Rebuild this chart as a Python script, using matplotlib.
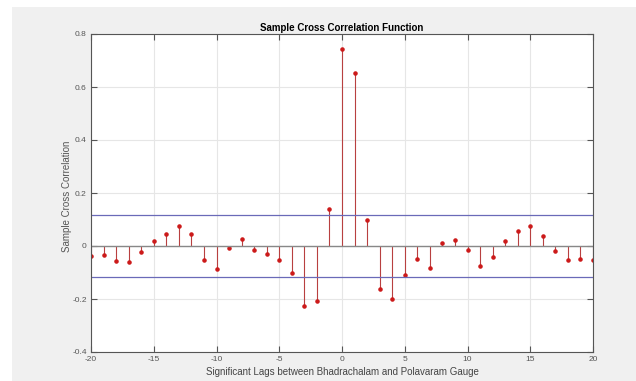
import numpy as np
import matplotlib.pyplot as plt

plt.rcParams['font.family'] = ['Liberation Sans', 'DejaVu Sans']
plt.rcParams['axes.unicode_minus'] = False

# Sample cross correlation values
lags = np.arange(-20, 21)
xcf = [-0.038, -0.035, -0.058, -0.062, -0.024, 0.019, 0.045, 0.075, 0.044, -0.054,
       -0.088, -0.008, 0.025, -0.014, -0.031, -0.053, -0.100, -0.226, -0.207, 0.138,
       0.745, 0.652, 0.100, -0.162, -0.201, -0.108, -0.050, -0.083, 0.010, 0.023,
       -0.016, -0.075, -0.043, 0.018, 0.055, 0.074, 0.036, -0.018, -0.052, -0.048,
       -0.054]
bound = 0.117

fig = plt.figure(figsize=(6.36, 3.81), dpi=100, facecolor='white')
# gray MATLAB-style figure panel
fig.patches.append(plt.Rectangle((12 / 636, 0), 1, 1 - 7 / 381, transform=fig.transFigure,
                                 facecolor='#f0f0f0', edgecolor='none', zorder=-10))
ax = fig.add_axes([91 / 636, 1 - 352 / 381, (593 - 91) / 636, (352 - 34) / 381])

ml, sl, bl = ax.stem(lags, xcf, linefmt='-', markerfmt='.', basefmt='-')
plt.setp(sl, color='#b84040', linewidth=0.8)
plt.setp(ml, color='#cc1a1a', markersize=4.5)
plt.setp(bl, color='#888888', linewidth=1.0)
ax.axhline(bound, color='#6a6ab8', linewidth=0.9)
ax.axhline(-bound, color='#6a6ab8', linewidth=0.9)

ax.set_xlim(-20, 20)
ax.set_ylim(-0.4, 0.8)
ax.set_xticks(np.arange(-20, 21, 5))
ax.set_yticks(np.arange(-0.4, 0.81, 0.2))
ax.set_yticklabels(['-0.4', '-0.2', '0', '0.2', '0.4', '0.6', '0.8'])
ax.grid(True, color='#e6e6e6', linewidth=0.8)
ax.set_axisbelow(True)
ax.tick_params(direction='in', top=True, right=True, labelsize=6, colors='#555555',
               length=4, width=0.8, pad=3)
for s in ax.spines.values():
    s.set_color('#555555')
    s.set_linewidth(0.8)

ax.set_title('Sample Cross Correlation Function', fontsize=7, fontweight='bold', pad=2)
ax.set_xlabel('Significant Lags between Bhadrachalam and Polavaram Gauge', fontsize=7,
              color='#444444', labelpad=3)
ax.set_ylabel('Sample Cross Correlation', fontsize=7, color='#555555')
ax.yaxis.set_label_coords(-0.037, 0.49)

fig.savefig('out.png', dpi=100, facecolor=fig.get_facecolor())
